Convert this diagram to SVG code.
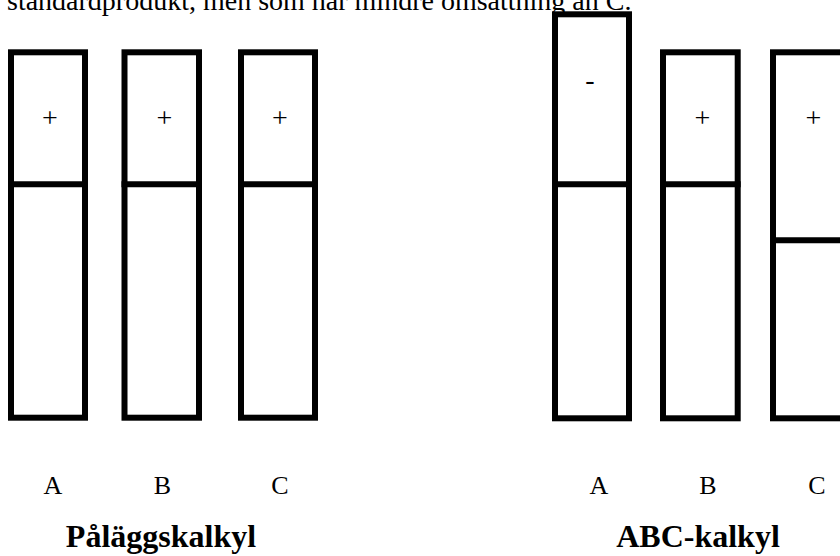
<svg xmlns="http://www.w3.org/2000/svg" width="840" height="556" viewBox="0 0 840 556">
  <style>
    .bar { fill: #fff; stroke: #000; stroke-width: 6; }
    .cut { stroke: #000; stroke-width: 6; }
    .txt { font-family: "Liberation Serif", "Times New Roman", serif; fill: #000; }
    .sign { font-size: 28px; text-anchor: middle; }
    .lbl { font-size: 26px; text-anchor: middle; }
    .ttl { font-size: 32px; font-weight: bold; text-anchor: middle; }
  </style>
  <rect width="840" height="556" fill="#fff"/>

  <!-- running text line, clipped by the top edge -->
  <text class="txt" x="7" y="10" font-size="28">standardprodukt, men som har mindre omsättning än C.</text>

  <!-- Påläggskalkyl: three equal bars -->
  <g id="pal-A">
    <rect class="bar" x="11" y="52.3" width="74" height="365.4"/>
    <line class="cut" x1="8" y1="184.3" x2="88" y2="184.3"/>
    <text class="txt sign" x="50" y="127">+</text>
  </g>
  <g id="pal-B">
    <rect class="bar" x="124.5" y="52.3" width="74.5" height="365.4"/>
    <line class="cut" x1="121.5" y1="184.3" x2="202" y2="184.3"/>
    <text class="txt sign" x="164.3" y="127">+</text>
  </g>
  <g id="pal-C">
    <rect class="bar" x="241" y="52.3" width="74" height="365.4"/>
    <line class="cut" x1="238" y1="184.3" x2="318" y2="184.3"/>
    <text class="txt sign" x="280" y="127">+</text>
  </g>

  <!-- ABC-kalkyl: A taller, C split lower -->
  <g id="abc-A">
    <rect class="bar" x="555" y="14.3" width="74" height="404"/>
    <line class="cut" x1="552" y1="184.3" x2="632" y2="184.3"/>
    <text class="txt sign" x="590" y="89">-</text>
  </g>
  <g id="abc-B">
    <rect class="bar" x="663" y="52.3" width="74.7" height="366"/>
    <line class="cut" x1="660" y1="184.3" x2="740.7" y2="184.3"/>
    <text class="txt sign" x="702.3" y="127">+</text>
  </g>
  <g id="abc-C">
    <rect class="bar" x="773" y="52.3" width="80" height="366"/>
    <line class="cut" x1="770" y1="240.3" x2="856" y2="240.3"/>
    <text class="txt sign" x="813.3" y="127">+</text>
  </g>

  <g id="connectors"/>

  <!-- product labels -->
  <g id="labels">
    <text class="txt lbl" x="53" y="494">A</text>
    <text class="txt lbl" x="162.5" y="494">B</text>
    <text class="txt lbl" x="280" y="494">C</text>
    <text class="txt lbl" x="599" y="494">A</text>
    <text class="txt lbl" x="708" y="494">B</text>
    <text class="txt lbl" x="817" y="494">C</text>
  </g>

  <!-- method titles -->
  <g id="titles">
    <text class="txt ttl" x="161" y="547">Påläggskalkyl</text>
    <text class="txt ttl" x="698" y="547">ABC-kalkyl</text>
  </g>
</svg>
